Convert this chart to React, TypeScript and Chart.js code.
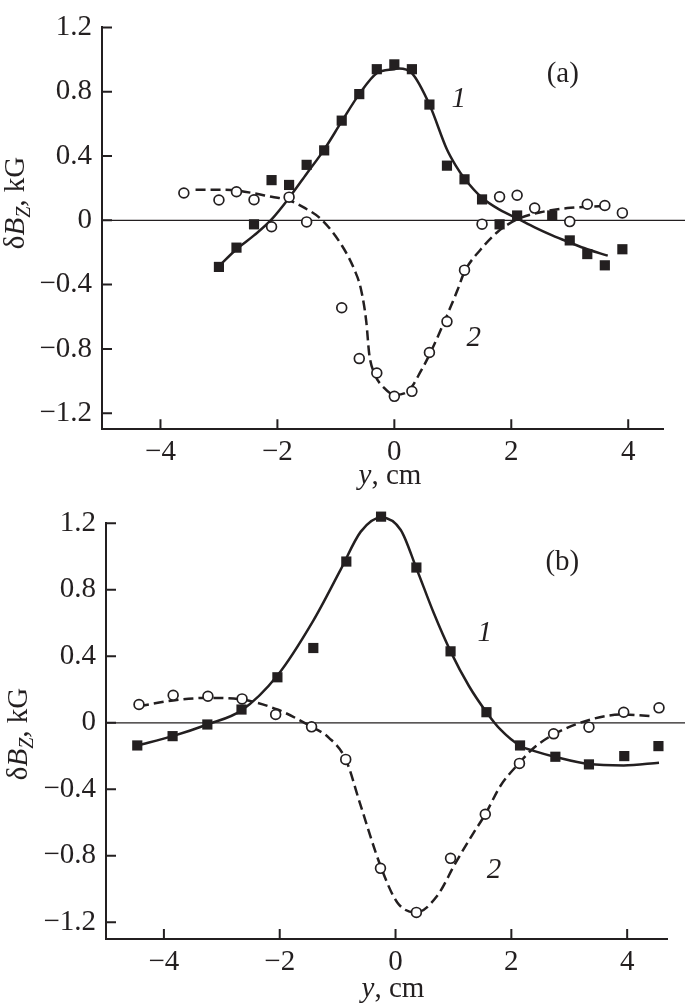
import React, { useEffect, useRef } from 'react';
import { Chart, registerables } from 'chart.js';

Chart.register(...registerables);

const INK = '#231f20';
const SERIF = '"Liberation Serif", "DejaVu Serif", serif';
const FS = 29;

// ---------- Panel (a) ----------
const aSquareX = [-3.0, -2.7, -2.4, -2.1, -1.8, -1.5, -1.2, -0.9, -0.6, -0.3, 0, 0.3, 0.6, 0.9, 1.2, 1.5, 1.8, 2.1, 2.7, 3.0, 3.3, 3.6, 3.9];
const aSquareY = [-0.29, -0.17, -0.025, 0.25, 0.22, 0.345, 0.435, 0.62, 0.785, 0.94, 0.97, 0.94, 0.72, 0.34, 0.255, 0.13, -0.025, 0.03, 0.03, -0.125, -0.21, -0.28, -0.18];
const aCircleX = [-3.6, -3.0, -2.7, -2.4, -2.1, -1.8, -1.5, -0.9, -0.6, -0.3, 0, 0.3, 0.6, 0.9, 1.2, 1.5, 1.8, 2.1, 2.4, 3.0, 3.3, 3.6, 3.9];
const aCircleY = [0.17, 0.126, 0.178, 0.128, -0.04, 0.144, -0.01, -0.544, -0.86, -0.95, -1.095, -1.064, -0.822, -0.63, -0.31, -0.024, 0.146, 0.156, 0.076, -0.008, 0.1, 0.092, 0.046];
const aFit1X = [-3.0, -2.7, -2.4, -2.1, -1.8, -1.5, -1.2, -0.9, -0.6, -0.3, 0, 0.08, 0.3, 0.6, 0.9, 1.05, 1.2, 1.5, 1.8, 2.1, 2.4, 2.7, 3.0, 3.3, 3.65];
const aFit1Y = [-0.285, -0.18, -0.094, 0.006, 0.14, 0.29, 0.44, 0.615, 0.785, 0.915, 0.94, 0.945, 0.915, 0.72, 0.44, 0.34, 0.26, 0.14, 0.066, 0.012, -0.044, -0.094, -0.138, -0.18, -0.22];
const aFit2X = [-3.4, -3.0, -2.7, -2.4, -2.1, -1.8, -1.55, -1.25, -0.9, -0.68, -0.57, -0.48, -0.43, -0.34, -0.17, 0, 0.23, 0.46, 0.63, 0.85, 1.08, 1.2, 1.48, 1.76, 2.1, 2.5, 2.96, 3.41, 3.65];
const aFit2Y = [0.19, 0.19, 0.186, 0.168, 0.146, 0.125, 0.08, 0.006, -0.155, -0.31, -0.43, -0.63, -0.83, -0.954, -1.044, -1.085, -1.064, -0.934, -0.814, -0.634, -0.434, -0.32, -0.18, -0.074, 0.006, 0.05, 0.076, 0.086, 0.09];

// ---------- Panel (b) ----------
const bSquareX = [-4.46, -3.85, -3.25, -2.66, -2.04, -1.42, -0.85, -0.25, 0.36, 0.95, 1.57, 2.15, 2.76, 3.34, 3.95, 4.54];
const bSquareY = [-0.136, -0.08, -0.01, 0.08, 0.274, 0.45, 0.97, 1.24, 0.934, 0.43, 0.064, -0.136, -0.204, -0.25, -0.2, -0.14];
const bCircleX = [-4.43, -3.84, -3.24, -2.65, -2.07, -1.45, -0.86, -0.26, 0.36, 0.95, 1.55, 2.14, 2.73, 3.34, 3.94, 4.55];
const bCircleY = [0.11, 0.166, 0.16, 0.144, 0.05, -0.024, -0.22, -0.875, -1.14, -0.815, -0.55, -0.244, -0.066, -0.026, 0.064, 0.09];
const bFit1X = [-4.46, -3.85, -3.25, -2.66, -2.04, -1.42, -0.95, -0.6, -0.25, 0.09, 0.36, 0.66, 0.95, 1.27, 1.57, 1.81, 2.16, 2.4, 2.76, 3.34, 3.94, 4.55];
const bFit1Y = [-0.136, -0.08, -0.01, 0.075, 0.285, 0.615, 0.92, 1.15, 1.235, 1.16, 0.93, 0.66, 0.43, 0.22, 0.064, -0.04, -0.14, -0.17, -0.205, -0.248, -0.256, -0.24];
const bFit2X = [-4.43, -3.84, -3.24, -2.65, -2.04, -1.47, -1.15, -0.86, -0.6, -0.26, 0.03, 0.36, 0.72, 1.04, 1.35, 1.55, 1.81, 2.14, 2.39, 2.73, 3.37, 3.94, 4.43];
const bFit2Y = [0.1, 0.135, 0.15, 0.14, 0.08, -0.02, -0.09, -0.22, -0.5, -0.86, -1.08, -1.14, -1.04, -0.84, -0.66, -0.55, -0.38, -0.24, -0.15, -0.07, 0.02, 0.05, 0.04];

// ---------- Axes ----------
const xTicks = [-4, -2, 0, 2, 4];
const yTicks = [-1.2, -0.8, -0.4, 0, 0.4, 0.8, 1.2];
const yMin = -1.3;
const yMax = 1.2;
const xMin = -5;
const aXMax = 4.6;
const bXMax = 4.7;

const curveLabels = ['1', '2'];
const panelLabels = ['(a)', '(b)'];

const pts = (xs: number[], ys: number[]) => xs.map((x, i) => ({ x, y: ys[i] }));
const fmt = (v: number, digits: number) => {
  if (Math.abs(v) < 1e-9) return '0';
  const s = Math.abs(v).toFixed(digits);
  return v < 0 ? '\u2212' + s : s;
};

type Seg = { text: string; font: string; dy?: number };

function drawRich(ctx: CanvasRenderingContext2D, segs: Seg[], cx: number, cy: number, rotate: boolean) {
  ctx.save();
  ctx.translate(cx, cy);
  if (rotate) ctx.rotate(-Math.PI / 2);
  ctx.textBaseline = 'alphabetic';
  ctx.textAlign = 'left';
  ctx.fillStyle = INK;
  const widths = segs.map((s) => {
    ctx.font = s.font;
    return ctx.measureText(s.text).width;
  });
  const total = widths.reduce((a, b) => a + b, 0);
  let x = -total / 2;
  segs.forEach((s, i) => {
    ctx.font = s.font;
    ctx.fillText(s.text, x, s.dy || 0);
    x += widths[i];
  });
  ctx.restore();
}

type PanelCfg = {
  squares: { x: number; y: number }[];
  circles: { x: number; y: number }[];
  fit1: { x: number; y: number }[];
  fit2: { x: number; y: number }[];
  xMax: number;
  height: number;
  padTop: number;
  padRight: number;
  yAxisW: number;
  xAxisH: number;
  panelLabel: string;
  panelPos: [number, number];
  label1Pos: [number, number];
  label2Pos: [number, number];
  yTitle: [number, number];
  xTitle: [number, number];
};

function makePlugin(cfg: PanelCfg) {
  return {
    id: 'decor',
    beforeDatasetsDraw(chart: any) {
      const { ctx, chartArea: a, scales } = chart;
      const xs = scales.x;
      const ys = scales.y;
      ctx.save();
      ctx.strokeStyle = INK;
      const y0 = ys.getPixelForValue(0);
      ctx.lineWidth = 1.3;
      ctx.beginPath();
      ctx.moveTo(a.left, y0);
      ctx.lineTo(chart.width, y0);
      ctx.stroke();
      ctx.lineWidth = 2;
      ctx.beginPath();
      ys.ticks.forEach((t: any) => {
        const y = ys.getPixelForValue(t.value);
        ctx.moveTo(a.left, y);
        ctx.lineTo(a.left + 10, y);
      });
      xs.ticks.forEach((t: any) => {
        const x = xs.getPixelForValue(t.value);
        ctx.moveTo(x, a.bottom);
        ctx.lineTo(x, a.bottom - 10);
      });
      ctx.stroke();
      ctx.restore();
    },
    afterDraw(chart: any) {
      const { ctx, scales } = chart;
      const xs = scales.x;
      const ys = scales.y;
      const reg = `${FS}px ${SERIF}`;
      const ital = `italic ${FS}px ${SERIF}`;
      ctx.save();
      ctx.fillStyle = INK;
      ctx.textAlign = 'center';
      ctx.textBaseline = 'middle';
      ctx.font = reg;
      ctx.fillText(cfg.panelLabel, xs.getPixelForValue(cfg.panelPos[0]), ys.getPixelForValue(cfg.panelPos[1]));
      ctx.font = ital;
      ctx.fillText(curveLabels[0], xs.getPixelForValue(cfg.label1Pos[0]), ys.getPixelForValue(cfg.label1Pos[1]));
      ctx.fillText(curveLabels[1], xs.getPixelForValue(cfg.label2Pos[0]), ys.getPixelForValue(cfg.label2Pos[1]));
      ctx.restore();
      drawRich(
        ctx,
        [
          { text: '\u03B4', font: reg },
          { text: 'B', font: ital },
          { text: 'Z', font: `italic 20px ${SERIF}`, dy: 6 },
          { text: ', kG', font: reg },
        ],
        cfg.yTitle[0],
        cfg.yTitle[1],
        true
      );
      drawRich(
        ctx,
        [
          { text: 'y', font: ital },
          { text: ', cm', font: reg },
        ],
        cfg.xTitle[0],
        cfg.xTitle[1],
        false
      );
    },
  };
}

function buildConfig(cfg: PanelCfg): any {
  return {
    type: 'scatter',
    data: {
      datasets: [
        {
          label: 'squares',
          data: cfg.squares,
          pointStyle: 'rect',
          pointRadius: 7.2,
          pointBackgroundColor: INK,
          pointBorderColor: INK,
          pointBorderWidth: 0,
          showLine: false,
          clip: false,
        },
        {
          label: 'circles',
          data: cfg.circles,
          pointStyle: 'circle',
          pointRadius: 4.9,
          pointBackgroundColor: '#ffffff',
          pointBorderColor: INK,
          pointBorderWidth: 1.7,
          showLine: false,
          clip: false,
        },
        {
          label: 'fit1',
          data: cfg.fit1,
          showLine: true,
          pointRadius: 0,
          borderColor: INK,
          borderWidth: 2.5,
          cubicInterpolationMode: 'monotone',
          fill: false,
          clip: false,
        },
        {
          label: 'fit2',
          data: cfg.fit2,
          showLine: true,
          pointRadius: 0,
          borderColor: INK,
          borderWidth: 2.5,
          borderDash: [10, 5],
          cubicInterpolationMode: 'monotone',
          fill: false,
          clip: false,
        },
      ],
    },
    options: {
      responsive: false,
      animation: false,
      events: [],
      layout: { padding: { top: cfg.padTop, right: cfg.padRight, left: 0, bottom: 0 } },
      plugins: { legend: { display: false }, tooltip: { enabled: false }, title: { display: false } },
      scales: {
        x: {
          type: 'linear',
          min: xMin,
          max: cfg.xMax,
          afterBuildTicks: (s: any) => {
            s.ticks = xTicks.map((v) => ({ value: v }));
          },
          afterFit: (s: any) => {
            s.height = cfg.xAxisH;
          },
          grid: { display: true, drawOnChartArea: false, drawTicks: false },
          border: { display: true, color: INK, width: 2 },
          ticks: {
            color: INK,
            font: { family: SERIF, size: FS },
            padding: 6,
            maxRotation: 0,
            autoSkip: false,
            callback: (v: number) => fmt(v, 0),
          },
        },
        y: {
          type: 'linear',
          min: yMin,
          max: yMax,
          afterBuildTicks: (s: any) => {
            s.ticks = yTicks.map((v) => ({ value: v }));
          },
          afterFit: (s: any) => {
            s.width = cfg.yAxisW;
          },
          grid: { display: true, drawOnChartArea: false, drawTicks: false },
          border: { display: true, color: INK, width: 2 },
          ticks: {
            color: INK,
            font: { family: SERIF, size: FS },
            padding: 10,
            autoSkip: false,
            callback: (v: number) => fmt(v, 1),
          },
        },
      },
    },
    plugins: [makePlugin(cfg)],
  };
}

const panelA: PanelCfg = {
  squares: pts(aSquareX, aSquareY),
  circles: pts(aCircleX, aCircleY),
  fit1: pts(aFit1X, aFit1Y),
  fit2: pts(aFit2X, aFit2Y),
  xMax: aXMax,
  height: 490,
  padTop: 15,
  padRight: 21.7,
  yAxisW: 102,
  xAxisH: 60.7,
  panelLabel: panelLabels[0],
  panelPos: [2.88, 0.91],
  label1Pos: [1.1, 0.75],
  label2Pos: [1.36, -0.736],
  yTitle: [24, 203],
  xTitle: [390, 484],
};

const panelB: PanelCfg = {
  squares: pts(bSquareX, bSquareY),
  circles: pts(bCircleX, bCircleY),
  fit1: pts(bFit1X, bFit1Y),
  fit2: pts(bFit2X, bFit2Y),
  xMax: bXMax,
  height: 517,
  padTop: 33.3,
  padRight: 17.3,
  yAxisW: 106,
  xAxisH: 68,
  panelLabel: panelLabels[1],
  panelPos: [2.88, 0.963],
  label1Pos: [1.54, 0.54],
  label2Pos: [1.7, -0.89],
  yTitle: [27, 244],
  xTitle: [393, 507],
};

function Panel({ cfg, top }: { cfg: PanelCfg; top: number }) {
  const ref = useRef<HTMLCanvasElement>(null);
  useEffect(() => {
    const chart = new Chart(ref.current as HTMLCanvasElement, buildConfig(cfg));
    return () => chart.destroy();
  }, [cfg]);
  return (
    <canvas
      ref={ref}
      width={685}
      height={cfg.height}
      style={{ position: 'absolute', left: 0, top, width: 685, height: cfg.height, display: 'block' }}
    />
  );
}

export default function App() {
  return (
    <div style={{ position: 'absolute', left: 0, top: 0, width: 685, height: 1007, background: '#ffffff', overflow: 'hidden' }}>
      <Panel cfg={panelA} top={0} />
      <Panel cfg={panelB} top={490} />
    </div>
  );
}
